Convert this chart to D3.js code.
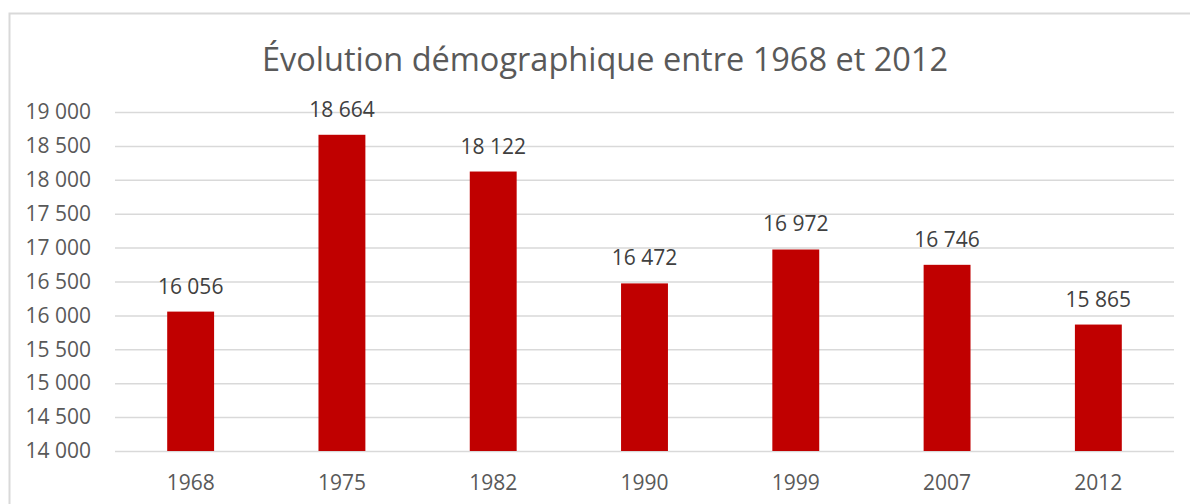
<!DOCTYPE html>
<html>
<head>
<meta charset="utf-8">
<script src="https://cdn.jsdelivr.net/npm/d3@7"></script>
<style>
  body { margin: 0; background: #fff; }
  svg { display: block; font-family: "Open Sans", sans-serif; }
</style>
</head>
<body>
<div id="chart"></div>
<script>
const years = ['1968', '1975', '1982', '1990', '1999', '2007', '2012'];
const population = [16056, 18664, 18122, 16472, 16972, 16746, 15865];
const yTicks = [14000, 14500, 15000, 15500, 16000, 16500, 17000, 17500, 18000, 18500, 19000];

const width = 1190;
const height = 504;
const margin = { top: 112, right: 16, bottom: 53, left: 115 };

const fmt = v => d3.format(',')(v).replace(',', ' ');

const svg = d3.select('#chart')
    .append('svg')
    .attr('width', width)
    .attr('height', height);

// outer frame of the chart area
svg.append('rect')
    .attr('x', 9.5)
    .attr('y', 13.5)
    .attr('width', width)
    .attr('height', height)
    .attr('fill', 'none')
    .attr('stroke', '#d9d9d9')
    .attr('stroke-width', 2);

const x = d3.scaleBand()
    .domain(years)
    .range([margin.left, width - margin.right])
    .paddingInner(0.69)
    .paddingOuter(0.345);

const y = d3.scaleLinear()
    .domain([14000, 19000])
    .range([height - margin.bottom, margin.top]);

// gridlines + tick labels
svg.append('g')
    .attr('transform', 'translate(' + margin.left + ',0)')
    .call(d3.axisLeft(y).tickValues(yTicks).tickFormat(fmt)
        .tickSize(-(width - margin.left - margin.right)).tickPadding(24))
    .call(g => g.select('.domain').remove())
    .call(g => g.selectAll('.tick line').attr('stroke', '#d9d9d9').attr('stroke-width', 1.5))
    .call(g => g.selectAll('.tick text')
        .attr('fill', '#595959')
        .style('font-size', '21px')
        .style('font-family', '"Open Sans", sans-serif'));

// x axis labels
svg.append('g')
    .attr('transform', 'translate(0,' + (height - margin.bottom) + ')')
    .call(d3.axisBottom(x).tickSize(0).tickPadding(24))
    .call(g => g.select('.domain').remove())
    .call(g => g.selectAll('.tick text')
        .attr('fill', '#595959')
        .style('font-size', '21px')
        .style('font-family', '"Open Sans", sans-serif'));

const data = years.map((d, i) => ({ year: d, value: population[i] }));

svg.append('g')
    .attr('fill', '#c00000')
    .selectAll('rect')
    .data(data)
    .join('rect')
    .attr('x', d => x(d.year))
    .attr('y', d => y(d.value))
    .attr('width', x.bandwidth())
    .attr('height', d => y(14000) - y(d.value));

// value labels
svg.append('g')
    .selectAll('text')
    .data(data)
    .join('text')
    .attr('x', d => x(d.year) + x.bandwidth() / 2)
    .attr('y', d => y(d.value) - 18)
    .attr('text-anchor', 'middle')
    .attr('fill', '#404040')
    .style('font-size', '21px')
    .text(d => fmt(d.value));

// title
svg.append('text')
    .attr('x', 605)
    .attr('y', 71)
    .attr('text-anchor', 'middle')
    .attr('fill', '#595959')
    .style('font-size', '32.5px')
    .text('Évolution démographique entre 1968 et 2012');
</script>
</body>
</html>
